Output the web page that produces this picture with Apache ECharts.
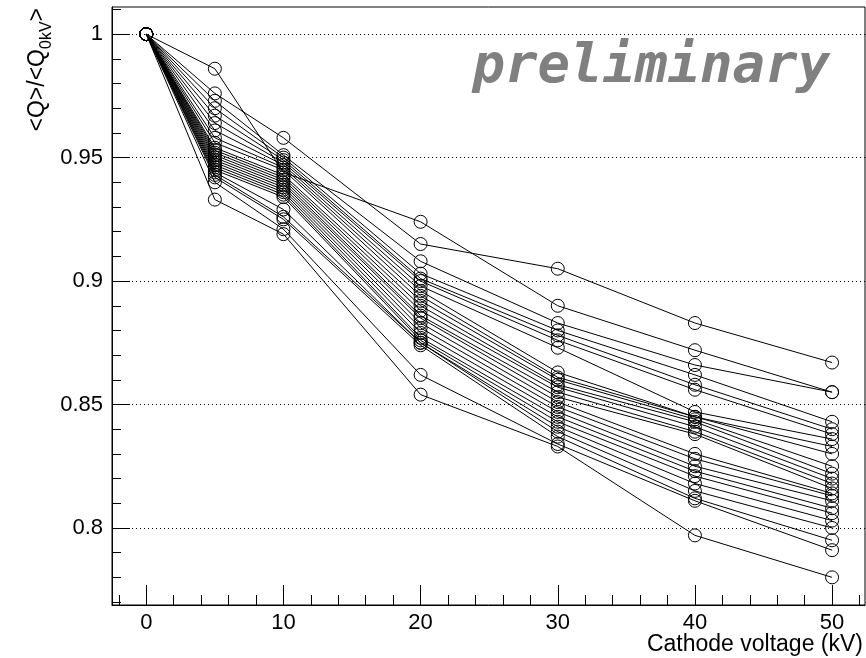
<!DOCTYPE html>
<html>
<head>
<meta charset="utf-8">
<script src="https://cdn.jsdelivr.net/npm/echarts@6/dist/echarts.min.js"></script>
<style>html,body{margin:0;padding:0;background:#fff;}#c{width:866px;height:658px;}</style>
</head>
<body>
<div id="c"></div>
<script>
// Cathode voltage (kV)
const voltages = [0, 5, 10, 20, 30, 40, 50];
// <Q>/<Q_0kV> for each measured channel
const ch01 = [1, 0.976, 0.958, 0.915, 0.905, 0.883, 0.867];
const ch02 = [1, 0.986, 0.944, 0.924, 0.890, 0.872, 0.855];
const ch03 = [1, 0.973, 0.951, 0.908, 0.883, 0.866, 0.855];
const ch04 = [1, 0.970, 0.950, 0.903, 0.880, 0.862, 0.843];
const ch05 = [1, 0.967, 0.949, 0.901, 0.878, 0.858, 0.840];
const ch06 = [1, 0.964, 0.948, 0.900, 0.876, 0.856, 0.838];
const ch07 = [1, 0.961, 0.947, 0.898, 0.873, 0.847, 0.836];
const ch08 = [1, 0.958, 0.946, 0.896, 0.863, 0.845, 0.833];
const ch09 = [1, 0.956, 0.945, 0.894, 0.861, 0.845, 0.830];
const ch10 = [1, 0.954, 0.943, 0.892, 0.860, 0.844, 0.825];
const ch11 = [1, 0.953, 0.942, 0.890, 0.858, 0.843, 0.822];
const ch12 = [1, 0.952, 0.941, 0.888, 0.857, 0.841, 0.820];
const ch13 = [1, 0.951, 0.940, 0.886, 0.855, 0.839, 0.818];
const ch14 = [1, 0.950, 0.939, 0.885, 0.853, 0.838, 0.816];
const ch15 = [1, 0.949, 0.938, 0.883, 0.851, 0.830, 0.814];
const ch16 = [1, 0.948, 0.937, 0.881, 0.849, 0.828, 0.813];
const ch17 = [1, 0.947, 0.936, 0.879, 0.847, 0.825, 0.811];
const ch18 = [1, 0.946, 0.935, 0.877, 0.845, 0.823, 0.808];
const ch19 = [1, 0.945, 0.934, 0.876, 0.843, 0.821, 0.806];
const ch20 = [1, 0.944, 0.929, 0.875, 0.841, 0.818, 0.803];
const ch21 = [1, 0.943, 0.926, 0.875, 0.839, 0.815, 0.800];
const ch22 = [1, 0.942, 0.925, 0.874, 0.837, 0.812, 0.795];
const ch23 = [1, 0.940, 0.921, 0.862, 0.834, 0.811, 0.791];
const ch24 = [1, 0.933, 0.919, 0.854, 0.833, 0.797, 0.780];
const channels = [ch01, ch02, ch03, ch04, ch05, ch06, ch07, ch08, ch09, ch10, ch11, ch12,
                  ch13, ch14, ch15, ch16, ch17, ch18, ch19, ch20, ch21, ch22, ch23, ch24];

// Axis ticks
const xMajorTicks = [0, 10, 20, 30, 40, 50];
const xMinorTicks = [-2, 0, 2, 4, 6, 8, 10, 12, 14, 16, 18, 20, 22, 24, 26, 28, 30, 32, 34, 36, 38, 40, 42, 44, 46, 48, 50, 52];
const yMajorTicks = [0.8, 0.85, 0.9, 0.95, 1];
const yMinorTicks = [0.77, 0.78, 0.79, 0.8, 0.81, 0.82, 0.83, 0.84, 0.85, 0.86, 0.87, 0.88, 0.89, 0.9,
                     0.91, 0.92, 0.93, 0.94, 0.95, 0.96, 0.97, 0.98, 0.99, 1, 1.01];
const gridValues = [0.8, 0.85, 0.9, 0.95, 1];

const FONT = 'Liberation Sans';
const chart = echarts.init(document.getElementById('c'), null, {renderer: 'canvas'});

const series = channels.map((vals, i) => {
  const s = {
    type: 'line',
    xAxisIndex: 0,
    yAxisIndex: 0,
    data: voltages.map((v, k) => [v, vals[k]]),
    symbol: 'circle',
    symbolSize: 13,
    showSymbol: true,
    lineStyle: {color: '#000', width: 1},
    itemStyle: {color: 'rgba(0,0,0,0)', borderColor: '#000', borderWidth: 1},
    emphasis: {disabled: true},
    silent: true,
    z: 3
  };
  if (i === 0) {
    s.markLine = {
      silent: true,
      symbol: 'none',
      label: {show: false},
      lineStyle: {color: '#000', width: 1, type: [1, 3]},
      data: gridValues.map(v => ({yAxis: v})),
      z: 1
    };
  }
  return s;
});

const xBase = {
  type: 'value', min: -2.5, max: 52.4, gridIndex: 0, position: 'bottom',
  splitLine: {show: false}
};
const yBase = {
  type: 'value', min: 0.7688, max: 1.011, gridIndex: 0, position: 'left',
  splitLine: {show: false}
};

chart.setOption({
  animation: false,
  backgroundColor: '#fff',
  grid: {left: 112, right: 1, top: 7, bottom: 53, containLabel: false, outerBoundsMode: 'none',
         show: true, borderColor: '#000', borderWidth: 1, backgroundColor: 'transparent'},
  xAxis: [
    Object.assign({}, xBase, {
      axisLine: {show: true, onZero: false, lineStyle: {color: '#000', width: 1}},
      axisTick: {show: true, inside: true, length: 20, customValues: xMajorTicks, lineStyle: {color: '#000', width: 1}},
      axisLabel: {show: true, customValues: xMajorTicks, color: '#000', fontFamily: FONT, fontSize: 22, margin: 7}
    }),
    Object.assign({}, xBase, {
      axisLine: {show: false, onZero: false},
      axisTick: {show: true, inside: true, length: 10, customValues: xMinorTicks, lineStyle: {color: '#000', width: 1}},
      axisLabel: {show: false}
    })
  ],
  yAxis: [
    Object.assign({}, yBase, {
      axisLine: {show: true, onZero: false, lineStyle: {color: '#000', width: 1}},
      axisTick: {show: true, inside: true, length: 18, customValues: yMajorTicks, lineStyle: {color: '#000', width: 1}},
      axisLabel: {show: true, customValues: yMajorTicks, color: '#000', fontFamily: FONT, fontSize: 22, margin: 9}
    }),
    Object.assign({}, yBase, {
      axisLine: {show: false, onZero: false},
      axisTick: {show: true, inside: true, length: 9, customValues: yMinorTicks, lineStyle: {color: '#000', width: 1}},
      axisLabel: {show: false}
    })
  ],
  graphic: [
    {
      type: 'text',
      x: 38, y: 8,
      rotation: Math.PI / 2,
      style: {
        text: '{a|<Q>/<Q}{s|0kV}{a|>}',
        align: 'right',
        verticalAlign: 'middle',
        rich: {
          a: {fontFamily: FONT, fontSize: 23, fill: '#000', verticalAlign: 'bottom'},
          s: {fontFamily: FONT, fontSize: 16, fill: '#000', verticalAlign: 'bottom', padding: [0, 0, -5, 0]}
        }
      },
      z: 10
    },
    {
      type: 'text',
      x: 863, y: 645,
      style: {
        text: 'Cathode voltage (kV)',
        align: 'right',
        verticalAlign: 'middle',
        fontFamily: FONT,
        fontSize: 23,
        fill: '#000'
      },
      z: 10
    },
    {
      type: 'text',
      x: 830, y: 68,
      style: {
        text: 'preliminary',
        align: 'right',
        verticalAlign: 'middle',
        fontFamily: 'DejaVu Sans Mono',
        fontWeight: 'bold',
        fontStyle: 'italic',
        fontSize: 54,
        fill: '#808080'
      },
      z: 10
    }
  ],
  series: series
});
</script>
</body>
</html>
